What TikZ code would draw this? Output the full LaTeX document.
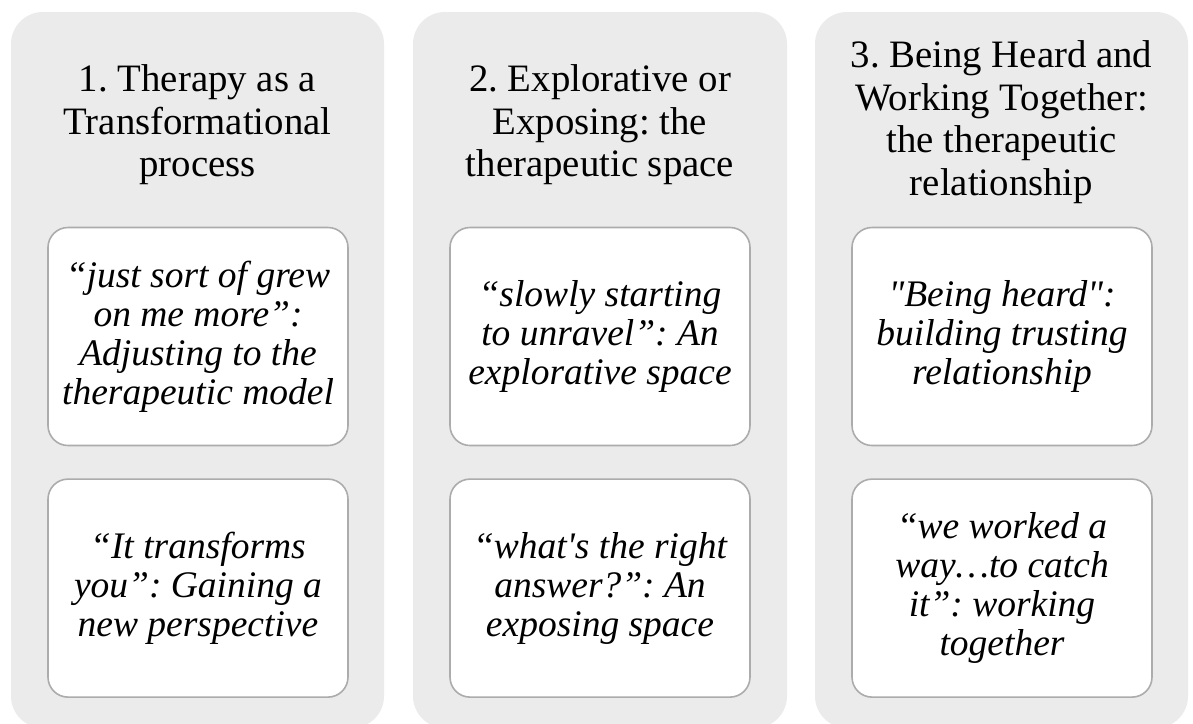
\documentclass[tikz,border=0pt]{standalone}
\usepackage{fontspec}
\setmainfont{Liberation Serif}
\usepackage{tikz}
\usetikzlibrary{positioning}
\definecolor{mygray1}{RGB}{235, 235, 235}
\definecolor{mygray2}{RGB}{172, 172, 172}
\frenchspacing
\tikzset{
  column/.style = {fill = mygray1, rounded corners = 32pt},
  header/.style = {align = center, inner sep = 0pt, font = \fontsize{38.8}{42.5}\selectfont},
  quotebox/.style = {draw = mygray2, line width = 1.6pt, fill = white, rounded corners = 20pt,
    minimum width = 300pt, minimum height = 218pt, align = center, inner sep = 0pt,
    font = \fontsize{37.5}{39}\selectfont\itshape}
}

\begin{document}
\begin{tikzpicture}[x = 1pt, y = -1pt]
\clip (0,0) rectangle (1193, 723);
\fill[white] (0,0) rectangle (1193, 723);

% the three columns
\path[column] (11, 12) rectangle (384, 728);
\path[column] (413, 12) rectangle (787, 728);
\path[column] (815, 12) rectangle (1188, 728);

% headers
\node[header] (hd1) at (197.5, 125) {1. Therapy as a\\Transformational\\process};
\node[header] (hd2) at (600, 125) {2. Explorative or\\Exposing: the\\therapeutic space};
\node[header] (hd3) at (1001.5, 122) {3. Being Heard and\\Working Together:\\the therapeutic\\relationship};

% quotes
\node[quotebox] (q11) at (198, 336.5) {“just sort of grew\\on me more”:\\Adjusting to the\\therapeutic model};
\node[quotebox, below = 32pt of q11] (q12) {“It transforms\\you”: Gaining a\\new perspective};

\node[quotebox] (q21) at (600, 336.5) {“slowly starting\\to unravel”: An\\explorative space};
\node[quotebox, below = 32pt of q21] (q22) {“what\textquotesingle s the right\\answer?”: An\\exposing space};

\node[quotebox] (q31) at (1002, 336.5) {\textquotedbl Being heard\textquotedbl :\\building trusting\\relationship};
\node[quotebox, below = 32pt of q31] (q32) {“we worked a\\way…to catch\\it”: working\\together};

\end{tikzpicture}
\end{document}
